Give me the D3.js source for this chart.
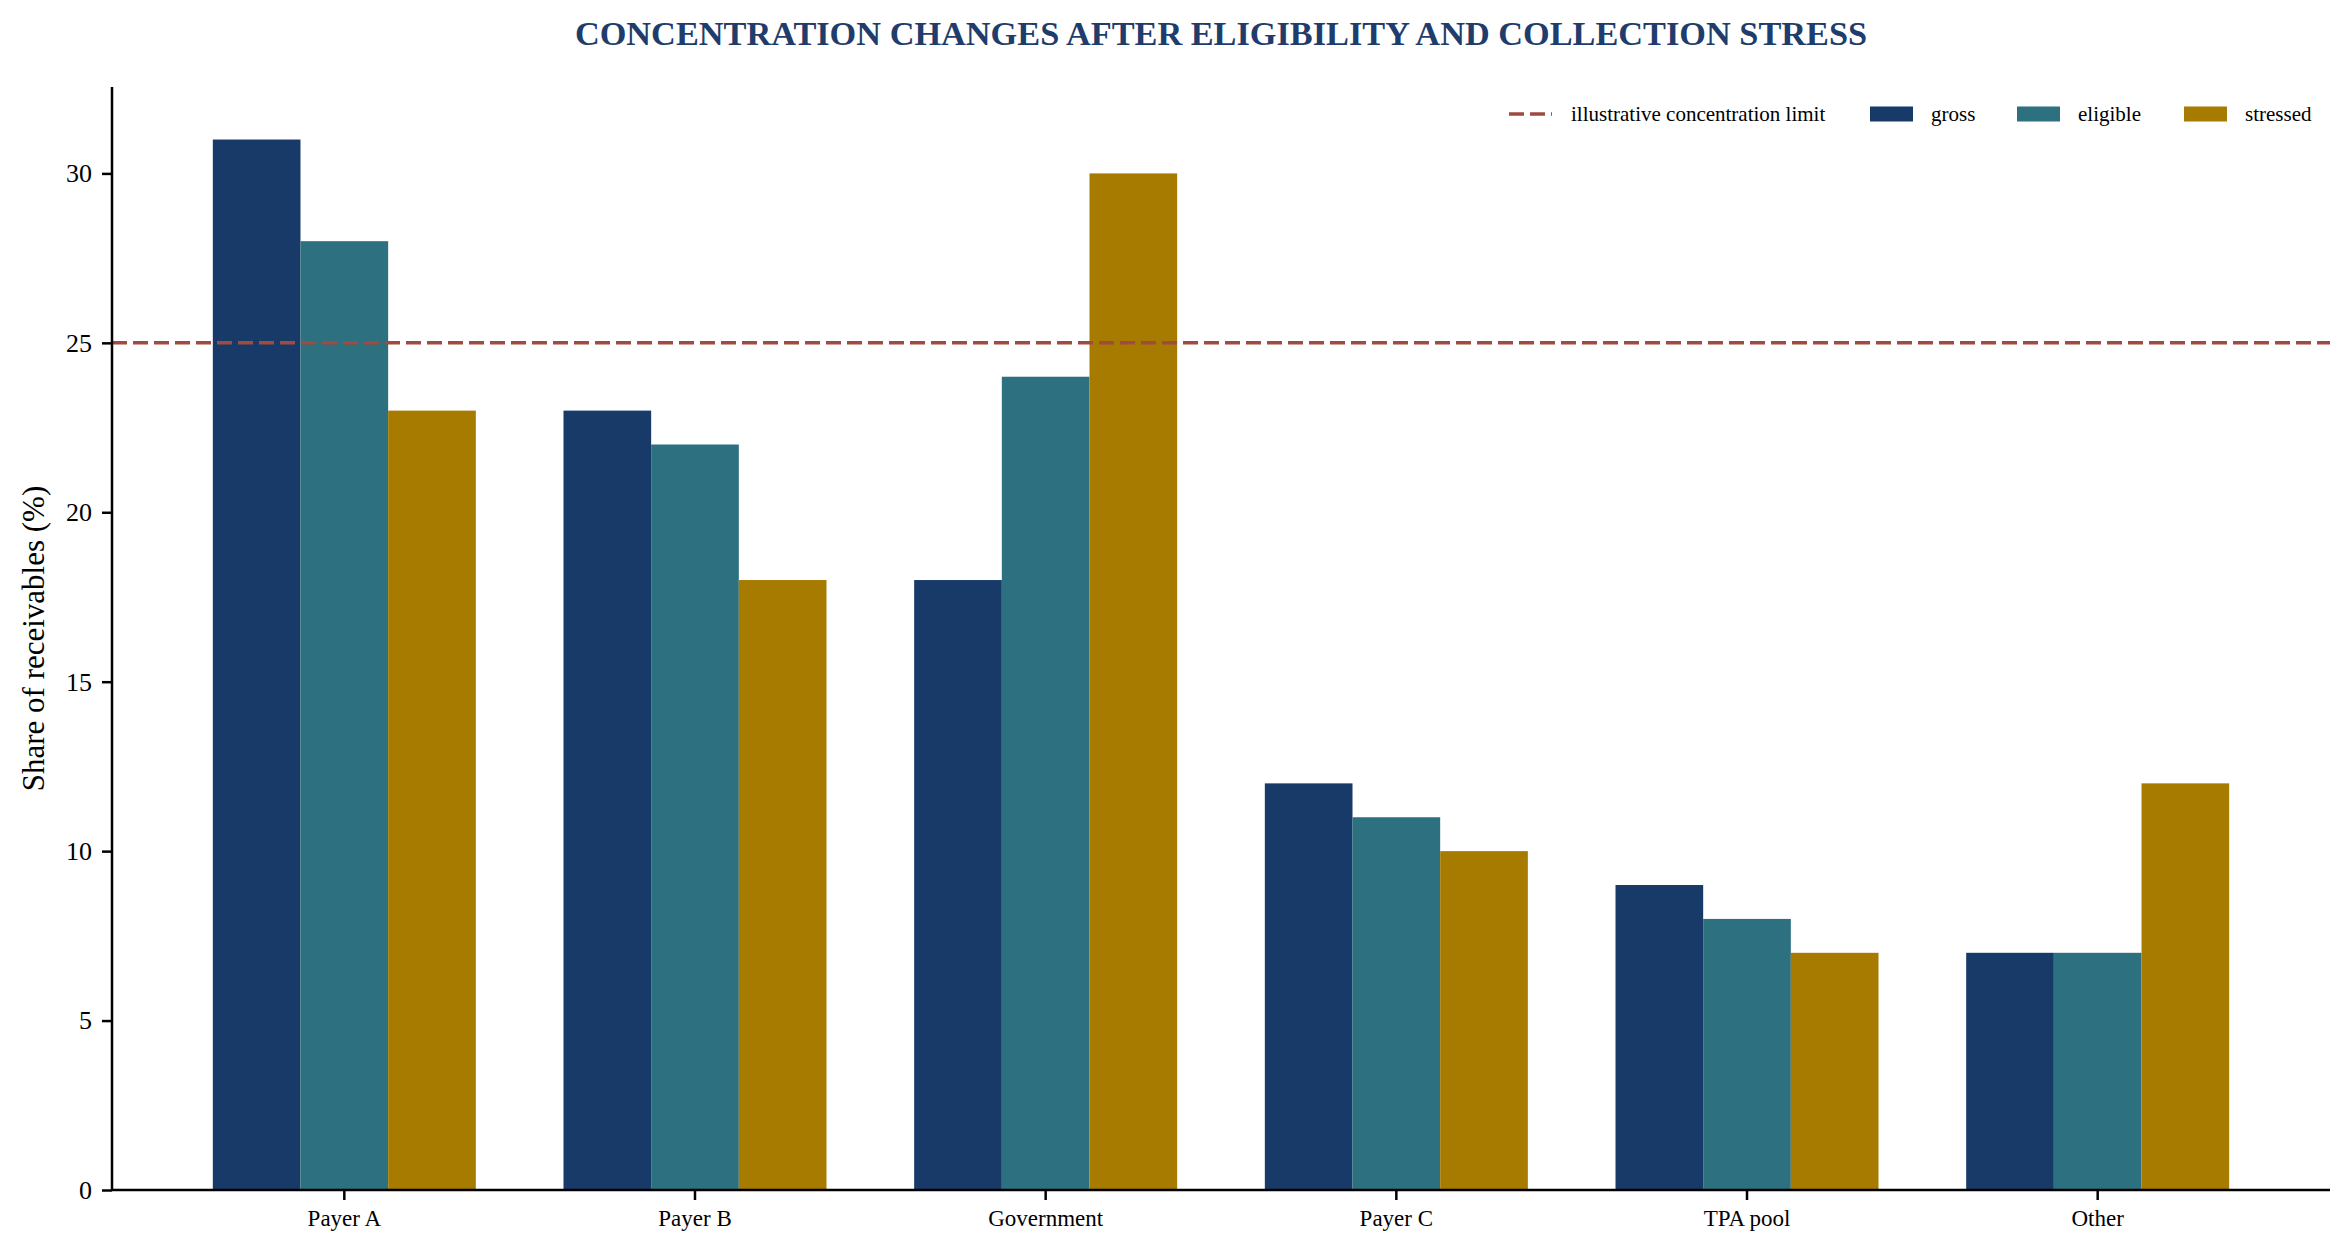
<!DOCTYPE html>
<html>
<head>
<meta charset="utf-8">
<script src="https://cdn.jsdelivr.net/npm/d3@7"></script>
<style>
  body { margin: 0; background: #fff; }
  text { font-family: "Liberation Serif", "Times New Roman", serif; }
</style>
</head>
<body>
<svg id="chart"></svg>
<script>
// data
const categories = ["Payer A", "Payer B", "Government", "Payer C", "TPA pool", "Other"];
const seriesNames = ["gross", "eligible", "stressed"];
const gross = [31, 23, 18, 12, 9, 7];
const eligible = [28, 22, 24, 11, 8, 7];
const stressed = [23, 18, 30, 10, 7, 12];
const yTicks = [0, 5, 10, 15, 20, 25, 30];
const limit = 25;
const limitLabel = "illustrative concentration limit";

const colors = { gross: "#173a69", eligible: "#2d707f", stressed: "#a77b00" };
const limitColor = "#9f4b40";

const width = 2351;
const height = 1254;
const margin = { top: 87, left: 112, bottom: 64, right: 21 };
const innerW = width - margin.left - margin.right;
const innerH = height - margin.top - margin.bottom;

const svg = d3.select("#chart")
    .attr("width", width)
    .attr("height", height);

const g = svg.append("g")
    .attr("transform", `translate(${margin.left},${margin.top})`);

let rows = categories.map((c, i) => ({
    category: c,
    gross: gross[i],
    eligible: eligible[i],
    stressed: stressed[i]
}));

let x = d3.scaleBand()
    .domain(categories)
    .range([0, innerW])
    .paddingInner(0.25)
    .paddingOuter(0.2875);

let xs = d3.scaleBand()
    .domain(seriesNames)
    .range([0, x.bandwidth()])
    .padding(0);

let y = d3.scaleLinear()
    .domain([0, 32.55])
    .range([innerH, 0]);

// bars
g.selectAll(".group")
    .data(rows)
  .enter().append("g")
    .attr("class", "group")
    .attr("transform", d => `translate(${x(d.category)},0)`)
  .selectAll("rect")
    .data(d => seriesNames.map(s => ({ key: s, value: d[s] })))
  .enter().append("rect")
    .attr("x", d => xs(d.key))
    .attr("width", xs.bandwidth())
    .attr("y", d => y(d.value))
    .attr("height", d => innerH - y(d.value))
    .attr("fill", d => colors[d.key]);

// limit line
g.append("line")
    .attr("x1", 0)
    .attr("x2", innerW)
    .attr("y1", y(limit))
    .attr("y2", y(limit))
    .attr("stroke", limitColor)
    .attr("stroke-width", 3.5)
    .attr("stroke-dasharray", "15,6");

// axes
let yAxis = g.append("g")
    .attr("class", "axis axis--y")
    .call(d3.axisLeft(y).tickValues(yTicks).tickSize(10).tickPadding(10));

let xAxis = g.append("g")
    .attr("class", "axis axis--x")
    .attr("transform", `translate(0,${innerH})`)
    .call(d3.axisBottom(x).tickSize(10).tickPadding(10));

yAxis.select(".domain").attr("d", `M0,${innerH}V0`);
xAxis.select(".domain").attr("d", `M0,0H${innerW}`);

svg.selectAll(".axis .domain").attr("stroke", "#000").attr("stroke-width", 2.5);
svg.selectAll(".axis .tick line").attr("stroke", "#000").attr("stroke-width", 2.5);
yAxis.selectAll("text")
    .attr("font-size", 26)
    .attr("fill", "#000");
xAxis.selectAll("text")
    .attr("font-size", 23)
    .attr("fill", "#000");

// y label
svg.append("text")
    .attr("transform", `translate(33,${margin.top + innerH / 2}) rotate(-90)`)
    .attr("text-anchor", "middle")
    .attr("dominant-baseline", "central")
    .attr("font-size", 31)
    .text("Share of receivables (%)");

// title
svg.append("text")
    .attr("x", margin.left + innerW / 2)
    .attr("y", 33)
    .attr("text-anchor", "middle")
    .attr("dominant-baseline", "central")
    .attr("font-size", 34.3)
    .attr("font-weight", "bold")
    .attr("fill", "#1f3d6c")
    .text("CONCENTRATION CHANGES AFTER ELIGIBILITY AND COLLECTION STRESS");

// legend
const legendY = 114;
const legend = svg.append("g").attr("class", "legend");

legend.append("line")
    .attr("x1", 1509)
    .attr("x2", 1552)
    .attr("y1", legendY)
    .attr("y2", legendY)
    .attr("stroke", limitColor)
    .attr("stroke-width", 3.5)
    .attr("stroke-dasharray", "15,6");
legend.append("text")
    .attr("x", 1571)
    .attr("y", legendY)
    .attr("dominant-baseline", "central")
    .attr("font-size", 21)
    .text(limitLabel);

const patchX = [1870, 2017, 2184];
seriesNames.forEach((s, i) => {
    legend.append("rect")
        .attr("x", patchX[i])
        .attr("y", legendY - 7.5)
        .attr("width", 43)
        .attr("height", 15)
        .attr("fill", colors[s]);
    legend.append("text")
        .attr("x", patchX[i] + 61)
        .attr("y", legendY)
        .attr("dominant-baseline", "central")
        .attr("font-size", 21)
        .text(s);
});
</script>
</body>
</html>
